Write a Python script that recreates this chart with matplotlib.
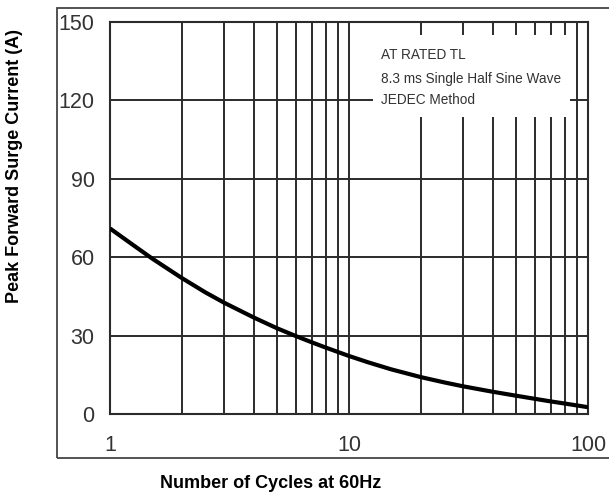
import matplotlib
matplotlib.use("Agg")
import matplotlib.pyplot as plt
from matplotlib.patches import Rectangle

# Data
cycles = [1, 1.2, 1.5, 2, 2.5, 3, 4, 5, 6, 7, 8, 10, 12, 15, 20, 25, 30, 40, 50, 60, 70, 80, 100]
surge_current = [71, 65.8, 59.5, 52, 46.6, 42.6, 36.9, 32.8, 29.8, 27.4, 25.4, 22.2, 19.8, 17.1, 14.1,
                 12.1, 10.6, 8.5, 7.0, 5.8, 4.8, 4.0, 2.6]

x_ticks = [1, 10, 100]
x_tick_labels = ["1", "10", "100"]
y_ticks = [0, 30, 60, 90, 120, 150]
annotation_lines = ["AT RATED TL", "8.3 ms Single Half Sine Wave", "JEDEC Method"]

plt.rcParams['font.family'] = ['Liberation Sans', 'DejaVu Sans']

fig = plt.figure(figsize=(6.09, 4.97), dpi=100)
ax = fig.add_axes([110/609, 1-414/497, (588-110)/609, (414-22)/497])

grid_color = "#2b2b2b"
ax.set_xscale("log")
ax.set_xlim(1, 100)
ax.set_ylim(0, 150)

# grid lines
minor_x = [2, 3, 4, 5, 6, 7, 8, 9, 10, 20, 30, 40, 50, 60, 70, 80, 90]
for xv in minor_x:
    ax.axvline(xv, color=grid_color, lw=1.4, zorder=1)
for yv in y_ticks[1:-1]:
    ax.axhline(yv, color=grid_color, lw=1.4, zorder=1)

# white annotation box hiding grid
ax.add_patch(Rectangle((12.6, 113.7), 84 - 12.6, 145 - 113.7, facecolor="white",
                       edgecolor="none", zorder=2))
ys = [137.3, 128.0, 120.3]
for t, yv in zip(annotation_lines, ys):
    ax.text(13.6, yv, t, fontsize=9.8, color="#333333", va="center", ha="left", zorder=3)

ax.plot(cycles, surge_current, color="black", lw=3.0, zorder=4, solid_capstyle="butt")

for s in ax.spines.values():
    s.set_color(grid_color)
    s.set_linewidth(1.5)

ax.set_xticks(x_ticks)
ax.set_xticklabels(x_tick_labels)
ax.xaxis.set_minor_locator(matplotlib.ticker.NullLocator())
ax.set_yticks(y_ticks)
ax.tick_params(axis="both", length=0, labelsize=15.5, labelcolor="#333333")
ax.tick_params(axis="y", pad=11)
ax.tick_params(axis="x", pad=15)

fig.text(15/609, 1-166/497, "Peak Forward Surge Current (A)", rotation=90, fontsize=13,
         fontweight="bold", ha="center", va="center")
fig.text(160/609, 1-483/497, "Number of Cycles at 60Hz", fontsize=13, fontweight="bold",
         ha="left", va="center")

# outer frame
fig.add_artist(Rectangle((57/609, 1-458/497), 1.0, (458-8)/497, transform=fig.transFigure,
                         fill=False, edgecolor="#444444", lw=1.3))

fig.savefig("out.png", dpi=100)
